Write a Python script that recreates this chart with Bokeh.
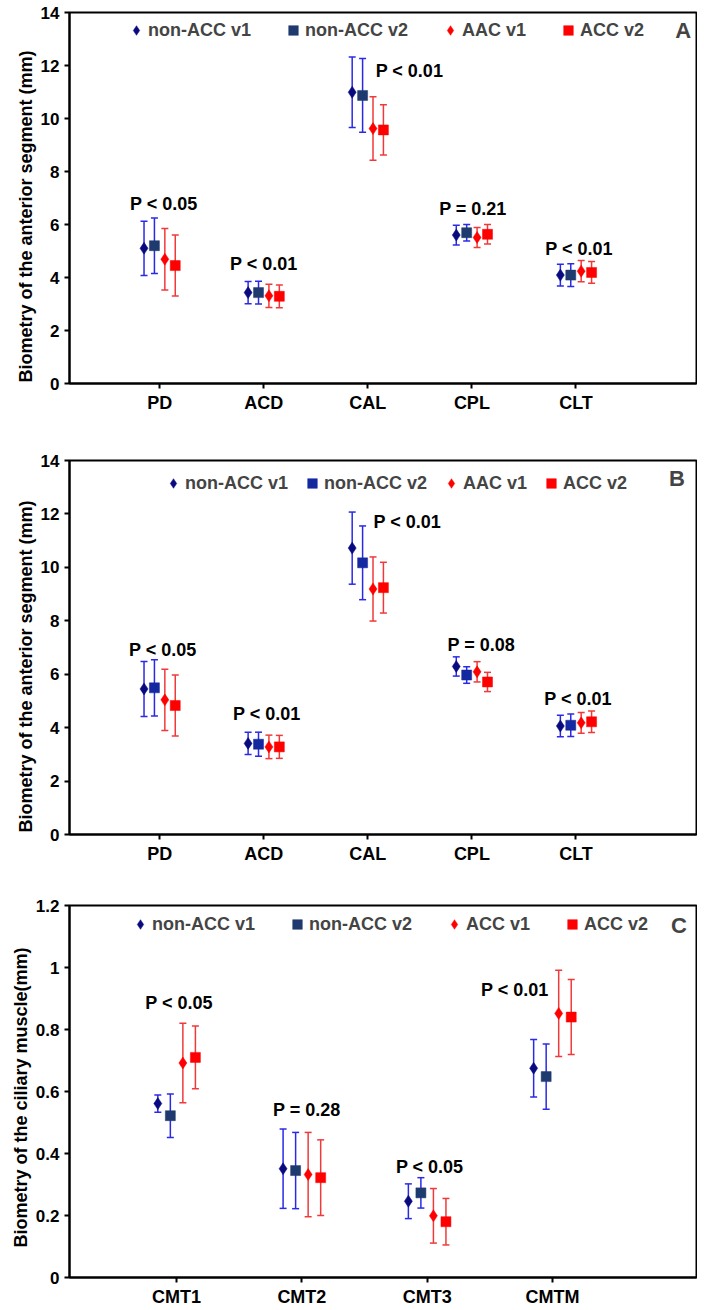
from bokeh.plotting import figure
from bokeh.models import (Legend, LegendItem, FixedTicker, CustomJSTickFormatter,
                          Range1d, Label, ColumnDataSource, Title)
from bokeh.layouts import column
from bokeh.embed import file_html
from bokeh.resources import INLINE
from bokeh.core.properties import value

FONT = "Liberation Sans"

# ---------------- data ----------------
seg_categories = ["PD", "ACD", "CAL", "CPL", "CLT"]
cm_categories = ["CMT1", "CMT2", "CMT3", "CMTM"]

a_series = ["non-ACC v1", "non-ACC v2", "AAC v1", "ACC v2"]
b_series = ["non-ACC v1", "non-ACC v2", "AAC v1", "ACC v2"]
c_series = ["non-ACC v1", "non-ACC v2", "ACC v1", "ACC v2"]

# Panel A (mean, sd)
a_nonacc_v1 = [5.10, 3.43, 10.99, 5.60, 4.09]
a_nonacc_v1_sd = [1.02, 0.42, 1.33, 0.37, 0.41]
a_nonacc_v2 = [5.20, 3.43, 10.87, 5.69, 4.09]
a_nonacc_v2_sd = [1.05, 0.43, 1.39, 0.31, 0.43]
a_acc_v1 = [4.69, 3.31, 9.62, 5.51, 4.24]
a_acc_v1_sd = [1.16, 0.44, 1.20, 0.38, 0.40]
a_acc_v2 = [4.45, 3.29, 9.57, 5.63, 4.19]
a_acc_v2_sd = [1.15, 0.43, 0.95, 0.37, 0.41]
a_p_text = ["P < 0.05", "P < 0.01", "P < 0.01", "P = 0.21", "P < 0.01"]
a_p_y = [6.79, 4.50, 11.80, 6.58, 5.06]
a_p_dx = [0.04, 0.0, 0.40, 0.01, 0.03]

# Panel B
b_nonacc_v1 = [5.45, 3.41, 10.72, 6.29, 4.06]
b_nonacc_v1_sd = [1.03, 0.42, 1.35, 0.36, 0.40]
b_nonacc_v2 = [5.49, 3.38, 10.17, 5.97, 4.09]
b_nonacc_v2_sd = [1.05, 0.45, 1.38, 0.31, 0.42]
b_acc_v1 = [5.04, 3.28, 9.19, 6.09, 4.18]
b_acc_v1_sd = [1.15, 0.44, 1.20, 0.38, 0.39]
b_acc_v2 = [4.83, 3.28, 9.24, 5.71, 4.22]
b_acc_v2_sd = [1.14, 0.43, 0.95, 0.36, 0.40]
b_p_text = ["P < 0.05", "P < 0.01", "P < 0.01", "P = 0.08", "P < 0.01"]
b_p_y = [6.89, 4.51, 11.71, 7.11, 5.09]
b_p_dx = [0.03, 0.03, 0.38, 0.09, 0.02]

# Panel C
c_nonacc_v1 = [0.561, 0.351, 0.246, 0.675]
c_nonacc_v1_sd = [0.028, 0.128, 0.056, 0.093]
c_nonacc_v2 = [0.522, 0.345, 0.273, 0.648]
c_nonacc_v2_sd = [0.070, 0.123, 0.049, 0.105]
c_acc_v1 = [0.692, 0.332, 0.199, 0.852]
c_acc_v1_sd = [0.128, 0.136, 0.088, 0.139]
c_acc_v2 = [0.710, 0.322, 0.180, 0.840]
c_acc_v2_sd = [0.101, 0.122, 0.075, 0.121]
c_p_text = ["P < 0.05", "P = 0.28", "P < 0.05", "P < 0.01"]
c_p_y = [0.884, 0.539, 0.357, 0.929]
c_p_dx = [0.02, 0.04, 0.02, -0.30]

seg_ticks = [0, 2, 4, 6, 8, 10, 12, 14]
cm_ticks = [0, 0.2, 0.4, 0.6, 0.8, 1.0, 1.2]

seg_title = "Biometry of the anterior segment (mm)"
cm_title = "Biometry of the ciliary muscle(mm)"

# ---------------- styles ----------------
DODGE = [-0.15, -0.05, 0.05, 0.15]
MARKERS = ["diamond", "square", "diamond", "square"]
SIZES = [12, 10, 12, 10]
ERR_BLUE = "#2a2ae6"
ERR_RED = "#f03a3a"


def make_panel(cats, series, means, sds, ptext, py, pdx, yticks, yend, xr,
               height, btop, bbottom, legend_loc, legend_spacing, letter,
               letter_xy, ytitle, title_offset, fill_colors):
    p = figure(width=697, height=height, x_range=Range1d(*xr),
               y_range=Range1d(0, yend), output_backend="svg",
               toolbar_location=None, min_border_left=69, min_border_right=1,
               min_border_top=btop, min_border_bottom=bbottom)
    p.xgrid.visible = False
    p.ygrid.visible = False
    p.outline_line_color = "black"
    p.outline_line_width = 2
    p.outline_line_alpha = 1

    xpos = [i + 1 for i in range(len(cats))]
    items = []
    for k in range(4):
        xs = [x + DODGE[k] for x in xpos]
        lo = [m - s for m, s in zip(means[k], sds[k])]
        hi = [m + s for m, s in zip(means[k], sds[k])]
        ecol = ERR_BLUE if k < 2 else ERR_RED
        src = ColumnDataSource(dict(x=xs, y=means[k], lo=lo, hi=hi))
        p.segment(x0="x", y0="lo", x1="x", y1="hi", source=src,
                  line_color=ecol, line_width=1.5)
        p.scatter(x="x", y="hi", source=src, marker="dash", size=7,
                  line_color=ecol, line_width=1.5)
        p.scatter(x="x", y="lo", source=src, marker="dash", size=7,
                  line_color=ecol, line_width=1.5)
        r = p.scatter(x="x", y="y", source=src, marker=MARKERS[k],
                      size=SIZES[k], fill_color=fill_colors[k],
                      line_color=fill_colors[k], line_width=0.5)
        items.append(LegendItem(label=series[k], renderers=[r]))

    psrc = ColumnDataSource(dict(x=[x + d for x, d in zip(xpos, pdx)], y=py,
                                 t=ptext))
    p.text(x="x", y="y", text="t", source=psrc, text_align="center",
           text_baseline="middle", text_font=value(FONT),
           text_font_style="bold", text_font_size="18px", text_color="black")

    legend = Legend(items=items, orientation="horizontal",
                    location=legend_loc, glyph_width=24, glyph_height=24,
                    label_standoff=0, spacing=legend_spacing, padding=0,
                    margin=0, border_line_color=None,
                    background_fill_alpha=0, label_text_font=FONT,
                    label_text_font_style="bold",
                    label_text_font_size="18px", label_height=20)
    p.add_layout(legend)

    p.add_layout(Label(x=letter_xy[0], y=letter_xy[1], text=letter,
                       text_font=FONT, text_font_style="bold",
                       text_font_size="22px", text_align="center",
                       text_baseline="middle"))

    # y-axis title, starting near the bottom of the frame as in the original
    p.add_layout(Title(text=ytitle, align="left", offset=title_offset,
                       text_font=FONT, text_font_style="bold",
                       text_font_size="18px", text_color="black",
                       standoff=4), "left")

    xa = p.xaxis[0]
    xa.ticker = FixedTicker(ticks=xpos)
    xa.major_label_overrides = {x: c for x, c in zip(xpos, cats)}
    xa.axis_line_width = 2
    xa.major_tick_out = 5
    xa.major_tick_in = 0
    xa.major_tick_line_width = 2
    xa.minor_tick_line_color = None
    xa.major_label_standoff = 4
    xa.major_label_text_font = FONT
    xa.major_label_text_font_style = "bold"
    xa.major_label_text_font_size = "18px"
    xa.major_label_text_color = "black"

    ya = p.yaxis[0]
    ya.ticker = FixedTicker(ticks=yticks)
    ya.formatter = CustomJSTickFormatter(
        code="return String(Math.round(tick*10)/10)")
    ya.axis_line_width = 2
    ya.major_tick_out = 5
    ya.major_tick_in = 0
    ya.major_tick_line_width = 2
    ya.minor_tick_line_color = None
    ya.major_label_standoff = 5
    ya.major_label_text_font = FONT
    ya.major_label_text_font_style = "bold"
    ya.major_label_text_font_size = "17px"
    ya.major_label_text_color = "black"
    return p


pa = make_panel(seg_categories, a_series,
                [a_nonacc_v1, a_nonacc_v2, a_acc_v1, a_acc_v2],
                [a_nonacc_v1_sd, a_nonacc_v2_sd, a_acc_v1_sd, a_acc_v2_sd],
                a_p_text, a_p_y, a_p_dx, seg_ticks, 14, (0.134, 6.158),
                430, 12, 47, (55, 341), 30, "A", (6.03, 13.32),
                seg_title, 1,
                ["#0a0a80", "#1f3a6e", "#ff0000", "#ff0000"])

pb = make_panel(seg_categories, b_series,
                [b_nonacc_v1, b_nonacc_v2, b_acc_v1, b_acc_v2],
                [b_nonacc_v1_sd, b_nonacc_v2_sd, b_acc_v1_sd, b_acc_v2_sd],
                b_p_text, b_p_y, b_p_dx, seg_ticks, 14, (0.134, 6.158),
                438, 30, 34, (92, 339), 12, "B", (5.97, 13.33),
                seg_title, 2,
                ["#0a0a80", "#1428a0", "#ff0000", "#ff0000"])

pc = make_panel(cm_categories, c_series,
                [c_nonacc_v1, c_nonacc_v2, c_acc_v1, c_acc_v2],
                [c_nonacc_v1_sd, c_nonacc_v2_sd, c_acc_v1_sd, c_acc_v2_sd],
                c_p_text, c_p_y, c_p_dx, cm_ticks, 1.2, (0.145, 5.15),
                441, 37, 31, (59, 341), 30, "C", (5.01, 1.136),
                cm_title, 30,
                ["#0a0a80", "#1f3a6e", "#ff0000", "#ff0000"])

layout = column(pa, pb, pc, spacing=0)
open("out.html", "w").write(file_html(layout, INLINE))
